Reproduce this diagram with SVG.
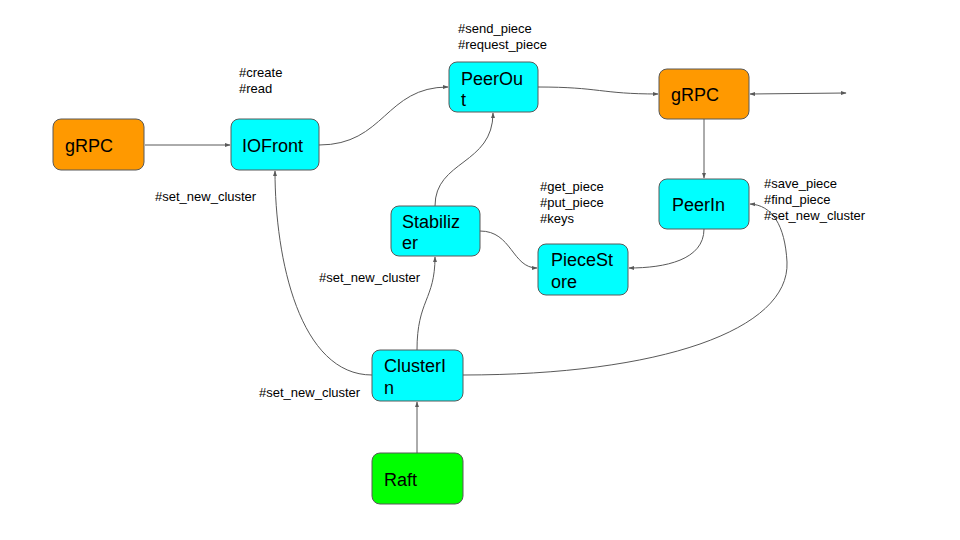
<svg xmlns="http://www.w3.org/2000/svg" width="960" height="540" viewBox="0 0 960 540">
  <style>
    .node rect { stroke: #595959; stroke-width: 1; }
    .orange { fill: #ff9900; }
    .cyan { fill: #00ffff; }
    .green { fill: #00ff00; }
    .label { font-family: "Liberation Sans", Arial, sans-serif; font-size: 18px; fill: #000; }
    .note { font-family: "Liberation Sans", Arial, sans-serif; font-size: 13px; fill: #000; }
    .edge { fill: none; stroke: #595959; stroke-width: 1; }
  </style>
  <defs>
    <marker id="arrow" viewBox="0 0 10 10" refX="9" refY="5" markerWidth="6" markerHeight="6" orient="auto-start-reverse" markerUnits="userSpaceOnUse">
      <path d="M0,1.5 L10,5 L0,8.5 Z" fill="#595959"/>
    </marker>
  </defs>
  <rect width="960" height="540" fill="#ffffff"/>

  <g id="connectors">
    <path class="edge" d="M145,145 L230,145" marker-end="url(#arrow)"/>
    <path class="edge" d="M319,145 C385,145 385,87 448,87" marker-end="url(#arrow)"/>
    <path class="edge" d="M538,87 C600,87 600,94 658,94" marker-end="url(#arrow)"/>
    <path class="edge" d="M750,94 L846,93" marker-start="url(#arrow)" marker-end="url(#arrow)"/>
    <path class="edge" d="M704,119 L704,178" marker-end="url(#arrow)"/>
    <path class="edge" d="M704,229 C704,260 665,268 629,268" marker-end="url(#arrow)"/>
    <path class="edge" d="M480,231 C512,231 512,268 537,268" marker-end="url(#arrow)"/>
    <path class="edge" d="M435,206 C435,160 493,165 493,113" marker-end="url(#arrow)"/>
    <path class="edge" d="M417,350 C417,300 435,300 435,257" marker-end="url(#arrow)"/>
    <path class="edge" d="M372,375 C300,375 275,260 275,171" marker-end="url(#arrow)"/>
    <path class="edge" d="M463,375 C660,375 790,330 787,262 C785,225 772,205 750,204" marker-end="url(#arrow)"/>
    <path class="edge" d="M417,453 L417,402" marker-end="url(#arrow)"/>
  </g>

  <g id="grpc-left" class="node">
    <rect class="orange" x="53" y="119" width="91" height="51" rx="8"/>
    <text class="label" x="65" y="152">gRPC</text>
  </g>
  <g id="iofront" class="node">
    <rect class="cyan" x="231" y="119" width="88" height="51" rx="8"/>
    <text class="label" x="242" y="152">IOFront</text>
  </g>
  <g id="peerout" class="node">
    <rect class="cyan" x="449" y="62" width="89" height="50" rx="8"/>
    <text class="label" x="461" y="85">PeerOu</text>
    <text class="label" x="461" y="106">t</text>
  </g>
  <g id="grpc-right" class="node">
    <rect class="orange" x="659" y="69" width="90" height="50" rx="8"/>
    <text class="label" x="671" y="101">gRPC</text>
  </g>
  <g id="peerin" class="node">
    <rect class="cyan" x="659" y="179" width="90" height="50" rx="8"/>
    <text class="label" x="672" y="211">PeerIn</text>
  </g>
  <g id="stabilizer" class="node">
    <rect class="cyan" x="391" y="206" width="89" height="50" rx="8"/>
    <text class="label" x="402" y="228">Stabiliz</text>
    <text class="label" x="402" y="249">er</text>
  </g>
  <g id="piecestore" class="node">
    <rect class="cyan" x="538" y="244" width="90" height="51" rx="8"/>
    <text class="label" x="551" y="266">PieceSt</text>
    <text class="label" x="551" y="288">ore</text>
  </g>
  <g id="clusterin" class="node">
    <rect class="cyan" x="372" y="350" width="91" height="51" rx="8"/>
    <text class="label" x="384" y="372">ClusterI</text>
    <text class="label" x="384" y="394">n</text>
  </g>
  <g id="raft" class="node">
    <rect class="green" x="372" y="453" width="91" height="51" rx="8"/>
    <text class="label" x="384" y="486">Raft</text>
  </g>

  <g id="notes">
    <text class="note" x="458" y="33">#send_piece</text>
    <text class="note" x="458" y="49">#request_piece</text>
    <text class="note" x="239" y="77">#create</text>
    <text class="note" x="239" y="93">#read</text>
    <text class="note" x="155" y="201">#set_new_cluster</text>
    <text class="note" x="540" y="191">#get_piece</text>
    <text class="note" x="540" y="207">#put_piece</text>
    <text class="note" x="540" y="223">#keys</text>
    <text class="note" x="764" y="188">#save_piece</text>
    <text class="note" x="764" y="204">#find_piece</text>
    <text class="note" x="764" y="220">#set_new_cluster</text>
    <text class="note" x="319" y="282">#set_new_cluster</text>
    <text class="note" x="259" y="397">#set_new_cluster</text>
  </g>
</svg>
